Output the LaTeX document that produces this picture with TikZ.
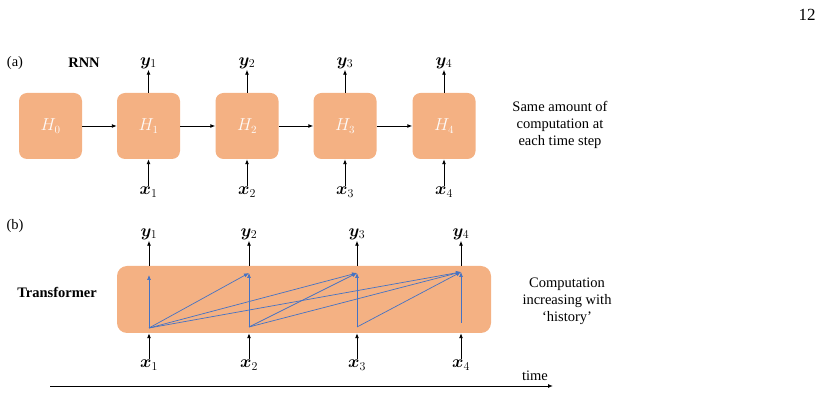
\documentclass[tikz,border=0pt]{standalone}
\usepackage{amsmath}
\usepackage{bm}
\usepackage{fontspec}
\setmainfont{Liberation Serif}
\usetikzlibrary{arrows.meta}
\definecolor{boxfill}{HTML}{F4B183}
\definecolor{attn}{HTML}{4472C4}
\begin{document}
\begin{tikzpicture}[x=1pt,y=-1pt,
  txt/.style={font=\fontsize{14.5}{17}\selectfont, align=center, inner sep=0pt},
  lbl/.style={font=\fontsize{16.5}{18}\selectfont, inner sep=1pt},
  hbox/.style={fill=boxfill, draw=none, rounded corners=8pt, minimum width=63pt, minimum height=66pt, inner sep=0pt, text=white!95!boxfill, font=\fontsize{16}{18}\selectfont},
  blk/.style={-{Latex[length=5pt,width=4pt]}, line width=0.9pt, black},
  att/.style={-{Latex[length=5pt,width=4pt]}, line width=0.7pt, attn},
]
\useasboundingbox (0,0) rectangle (823,419);
\node[font=\fontsize{17}{20}\selectfont, inner sep=0pt] (pg) at (807,15) {12};
% (a)
\node[txt] (la) at (15,63) {(a)};
\node[txt, font=\fontsize{14.5}{17}\selectfont\bfseries] (rnn) at (84,63) {RNN};
\foreach \i/\x in {0/50.5,1/148.5,2/247,3/345,4/444}{
  \node[hbox] (H\i) at (\x,126) {$H_{\i}$};
}
\foreach \i in {1,...,4}{
  \node[lbl] (y\i) at (H\i.center |- 0,63) {$\bm{y}_{\i}$};
  \node[lbl] (x\i) at (H\i.center |- 0,192) {$\bm{x}_{\i}$};
  \draw[blk] (H\i.north) -- (y\i.south);
  \draw[blk] (x\i.north) -- (H\i.south);
}
\foreach \a/\b in {0/1,1/2,2/3,3/4}{
  \draw[blk] (H\a.east) -- (H\b.west);
}
\node[txt] (same) at (560,125) {Same amount of\\computation at\\each time step};
% (b)
\node[txt] (lb) at (15,226) {(b)};
\node[txt, font=\fontsize{14.5}{17}\selectfont\bfseries] (tr) at (57,292) {Transformer};
\node[fill=boxfill, draw=none, rounded corners=10pt, minimum width=374pt, minimum height=67pt, inner sep=0pt] (T) at (304,299.5) {};
\foreach \i/\x/\bt/\tp in {1/149/328/275,2/249/327/273,3/357/327/273,4/461/323/272}{
  \coordinate (b\i) at (\x,\bt);
  \coordinate (t\i) at (\x,\tp);
  \node[lbl] (ty\i) at (\x,234) {$\bm{y}_{\i}$};
  \node[lbl] (tx\i) at (\x,365) {$\bm{x}_{\i}$};
  \draw[blk] (T.north -| ty\i) -- (ty\i.south);
  \draw[blk] (tx\i.north) -- (T.south -| tx\i);
}
\foreach \i/\j in {1/1,1/2,1/3,1/4,2/2,2/3,2/4,3/3,3/4,4/4}{
  \draw[att] (b\i) -- (t\j);
}
\node[txt] (comp) at (567,301) {Computation\\increasing with\\`history'};
% time axis
\coordinate (ts) at (50,386);
\coordinate (te) at (553,386);
\draw[blk] (ts) -- (te);
\node[txt] (time) at (535,376) {time};
\end{tikzpicture}
\end{document}
